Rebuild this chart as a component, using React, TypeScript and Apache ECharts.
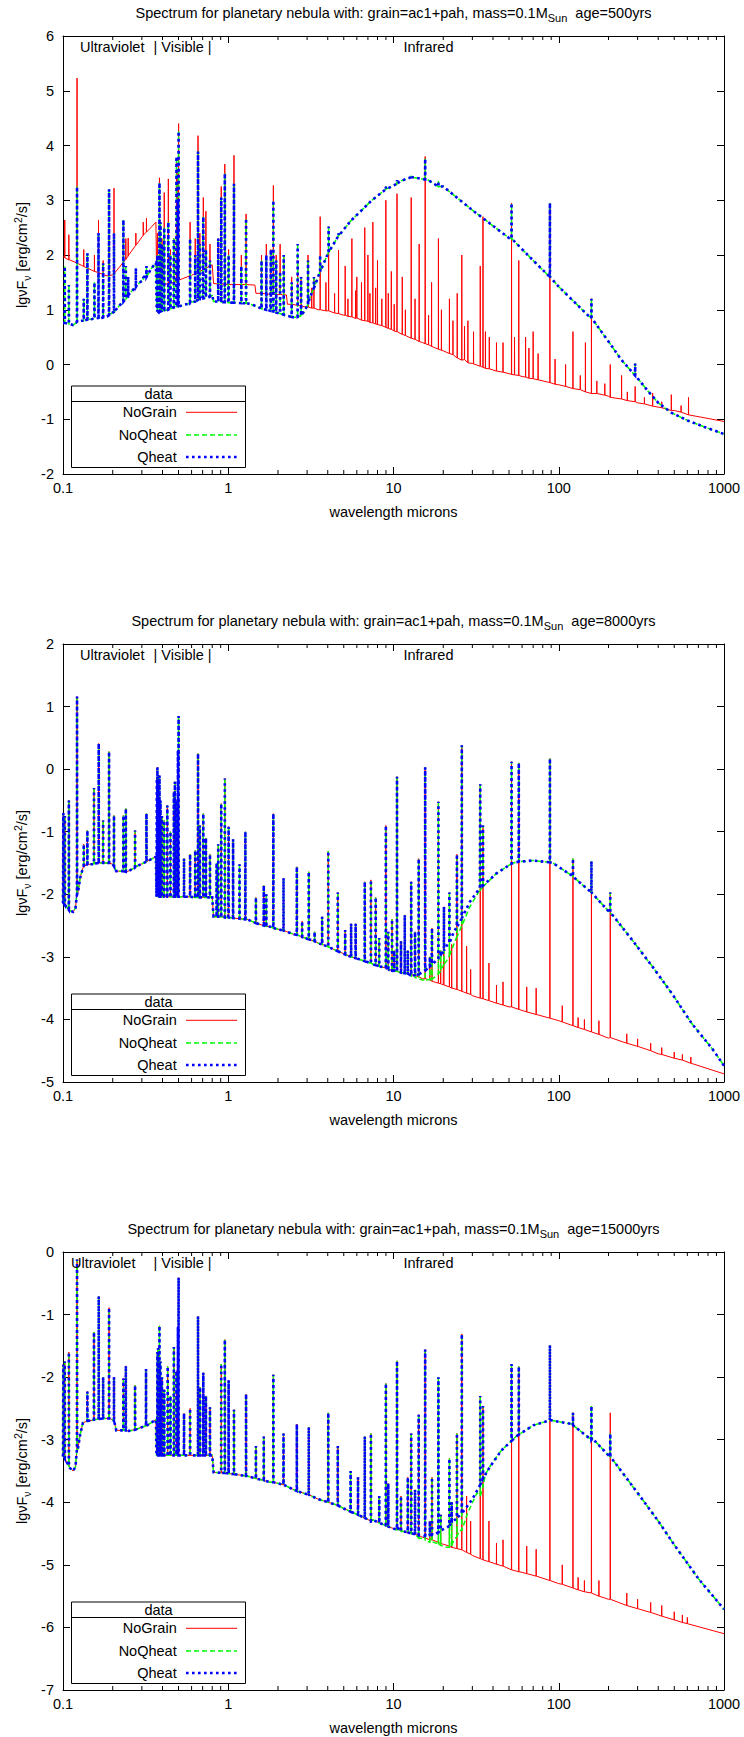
import { useEffect, useRef } from "react";
import * as echarts from "echarts";

const FONT = '"Liberation Sans", Arial, Helvetica, sans-serif';
const FS = 14.5;
const AGES = ["500", "8000", "15000"];
const Y_RANGES = [[-2, 6], [-5, 2], [-7, 0]];
const SERIES_NAMES = ["NoGrain", "NoQheat", "Qheat"];
const MINOR_DECADES = [0.1, 1, 10, 100];

// ---------- Panel 1 (age 500 yrs) ----------
const p1NoGrain = [
  [0.1, 1.97], [0.11, 1.91], [0.12, 1.86], [0.13, 1.81], [0.15, 1.72], [0.17, 1.66], [0.185, 1.62],
  [0.2, 1.64], [0.22, 1.78], [0.25, 2.0], [0.28, 2.2], [0.31, 2.38], [0.34, 2.5], [0.365, 2.6],
  [0.369, 1.5], [0.4, 1.46], [0.45, 1.49], [0.5, 1.54], [0.6, 1.63], [0.7, 1.73], [0.8, 1.82],
  [0.815, 1.48], [1.0, 1.46], [1.2, 1.46], [1.45, 1.45], [1.47, 1.3], [1.8, 1.28], [2.25, 1.27],
  [2.28, 1.1], [2.8, 1.06], [3.5, 1.0], [5, 0.9], [7.4, 0.76], [10, 0.62], [15, 0.4], [20, 0.25],
  [30, 0.02], [40, -0.1], [60, -0.22], [100, -0.37], [200, -0.58], [300, -0.7], [500, -0.84], [1000, -1.04],
];
const p1Dust = [
  [0.1, 0.76], [0.11, 0.74], [0.115, 0.72], [0.12, 0.76], [0.13, 0.8], [0.15, 0.83], [0.17, 0.85],
  [0.185, 0.88], [0.2, 0.95], [0.22, 1.08], [0.25, 1.28], [0.28, 1.45], [0.31, 1.6], [0.34, 1.74],
  [0.365, 1.86], [0.369, 1.0], [0.38, 0.95], [0.42, 0.99], [0.5, 1.06], [0.6, 1.14], [0.7, 1.21],
  [0.8, 1.26], [0.815, 1.15], [1.0, 1.13], [1.3, 1.12], [1.5, 1.06], [1.8, 0.98], [2.2, 0.9],
  [2.5, 0.86], [2.7, 0.88], [2.9, 0.98], [3.1, 1.2], [3.4, 1.5], [3.6, 1.7], [4.3, 2.18], [5.5, 2.62],
  [7.4, 3.0], [9, 3.2], [11, 3.35], [13, 3.42], [16, 3.38], [20, 3.25], [30, 2.82], [50, 2.31],
  [70, 1.9], [100, 1.42], [150, 0.9], [200, 0.42], [240, 0.08], [290, -0.2], [350, -0.5], [400, -0.7],
  [480, -0.88], [600, -1.02], [760, -1.14], [1000, -1.27],
];
// [wavelength, gasBase, gasPeak, dustBase, dustPeak]
const p1Lines = [
  [0.1025, 1.95, 2.64, 0.76, 1.79], [0.1085, 1.91, 2.37, 0.74, 1.45], [0.1216, 1.85, 5.23, 0.78, 3.25],
  [0.1335, 1.79, 2.1, 0.8, 1.2], [0.1405, 1.76, 1.88, 0.82, 2.03], [0.155, 1.7, 2.0, 0.84, 1.5],
  [0.164, 1.68, 2.64, 0.85, 2.4], [0.175, 1.64, 1.9, 0.86, 1.85], [0.19, 1.62, 2.3, 0.9, 3.2],
  [0.2035, 1.66, 3.22, 0.96, 2.4], [0.232, 1.87, 2.2, 1.15, 2.64], [0.24, 1.92, 2.3, 1.2, 1.8],
  [0.248, 1.98, 2.31, 1.24, 1.6], [0.276, 2.18, 2.4, 1.42, 1.76], [0.306, 2.36, 2.6, 1.55, 1.6],
  [0.32, 2.42, 2.67, 1.6, 1.8], [0.3727, 1.5, 2.4, 0.97, 2.0], [0.3835, 1.47, 3.41, 0.97, 3.32],
  [0.389, 1.47, 2.2, 0.97, 2.6], [0.397, 1.46, 2.3, 0.98, 2.2], [0.41, 1.46, 3.14, 0.99, 2.5],
  [0.434, 1.48, 3.39, 1.0, 2.6], [0.447, 1.49, 2.1, 1.02, 2.0], [0.4686, 1.5, 2.3, 1.04, 2.3],
  [0.4861, 1.52, 3.7, 1.05, 3.8], [0.4959, 1.53, 3.5, 1.06, 3.0], [0.5007, 1.54, 4.4, 1.06, 4.26],
  [0.5876, 1.62, 2.6, 1.12, 2.3], [0.6312, 1.66, 2.3, 1.15, 2.0], [0.6563, 1.68, 4.18, 1.18, 3.89],
  [0.673, 1.7, 2.4, 1.19, 2.2], [0.7065, 1.74, 3.05, 1.21, 2.7], [0.7325, 1.76, 2.8, 1.22, 2.1],
  [0.775, 1.8, 2.2, 1.24, 1.9], [0.87, 1.47, 2.3, 1.15, 2.3], [0.907, 1.47, 3.25, 1.14, 3.05],
  [0.9532, 1.47, 3.66, 1.14, 3.49], [1.005, 1.46, 2.1, 1.13, 2.0], [1.083, 1.46, 3.82, 1.13, 3.3],
  [1.2, 1.46, 2.0, 1.12, 1.8], [1.282, 1.46, 2.75, 1.12, 2.67], [1.59, 1.3, 2.0, 1.02, 1.9],
  [1.7, 1.29, 2.2, 1.0, 2.0], [1.81, 1.28, 2.1, 0.98, 2.1], [1.875, 1.28, 3.27, 0.97, 3.0],
  [1.95, 1.28, 2.0, 0.95, 1.9], [2.06, 1.28, 2.2, 0.93, 1.7], [2.166, 1.27, 2.0, 0.91, 2.0],
  [2.42, 1.1, 1.6, 0.87, 1.5], [2.63, 1.08, 1.9, 0.87, 2.2], [2.76, 1.07, 1.6, 0.9, 1.6],
  [3.04, 1.05, 2.0, 1.1, 1.9], [3.3, 1.03, 1.6, 1.4, 1.6], [3.6, 1.0, 2.7, 1.7, 2.0],
  [4.05, 0.98, 2.1, 2.05, 2.52], [4.65, 0.93, 2.09, 2.35, 2.4], [5.1, 0.9, 1.8, null, null],
  [5.6, 0.87, 2.3, null, null], [6.0, 0.85, 1.6, null, null], [6.7, 0.8, 2.5, null, null],
  [7.0, 0.79, 2.0, null, null], [7.5, 0.76, 2.6, null, null], [8.0, 0.73, 1.9, null, null],
  [8.99, 0.68, 3.0, 3.2, 3.25], [9.7, 0.64, 1.7, null, null], [10.5, 0.6, 3.12, 3.3, 3.37],
  [11.3, 0.55, 1.6, null, null], [12.8, 0.48, 3.05, 3.42, 3.45], [14.3, 0.42, 2.2, null, null],
  [15.55, 0.38, 3.8, 3.38, 3.76], [17.0, 0.33, 1.5, null, null], [18.7, 0.28, 2.3, 3.25, 3.35],
  [21.8, 0.2, 1.2, null, null], [24.3, 0.12, 1.3, null, null], [25.9, 0.08, 2.0, null, null],
  [28.2, 0.03, 0.8, null, null], [33.5, -0.03, 1.8, null, null], [34.8, -0.05, 2.7, null, null],
  [36, -0.07, 0.6, null, null], [42, -0.12, 0.4, null, null], [51.8, -0.18, 2.95, 2.3, 2.95],
  [57.3, -0.2, 1.9, null, null], [63, -0.23, 0.5, null, null], [70, -0.26, 0.6, null, null],
  [88.4, -0.33, 2.95, 1.6, 2.95], [121.9, -0.44, 0.6, null, null], [145, -0.5, 0.4, null, null],
  [157.7, -0.53, 1.2, 0.85, 1.2], [205, -0.6, 0.0, null, null], [240, -0.63, -0.2, null, null],
  [290, -0.68, -0.4, -0.2, 0.02], [370, -0.76, -0.52, null, null], [480, -0.84, -0.55, null, null],
  [610, -0.92, -0.6, null, null],
];
// smaller NoGrain lines of the infrared forest: [wavelength, gasBase, gasPeak, null, null]
const p1WeakLines = [
  [3.2, 1.03, 1.4, null, null], [3.9, 0.98, 1.5, null, null], [4.4, 0.94, 1.3, null, null],
  [5.3, 0.88, 1.2, null, null], [5.9, 0.84, 1.35, null, null], [6.4, 0.81, 1.5, null, null],
  [7.2, 0.77, 1.3, null, null], [7.8, 0.74, 1.4, null, null], [8.5, 0.71, 1.2, null, null],
  [9.3, 0.66, 1.3, null, null], [10.1, 0.61, 1.1, null, null], [11.8, 0.53, 1.0, null, null],
  [13.5, 0.46, 1.2, null, null], [16.3, 0.36, 0.9, null, null], [19.5, 0.26, 1.0, null, null],
  [22.9, 0.18, 0.8, null, null], [26.9, 0.09, 0.7, null, null], [30.5, 0.01, 0.6, null, null],
  [38, -0.08, 0.5, null, null], [46, -0.14, 0.4, null, null], [54, -0.19, 0.5, null, null],
  [66, -0.25, 0.3, null, null], [75, -0.28, 0.2, null, null], [95, -0.36, 0.1, null, null],
  [110, -0.4, 0.0, null, null], [135, -0.46, -0.2, null, null], [170, -0.53, -0.3, null, null],
  [190, -0.56, -0.35, null, null], [260, -0.66, -0.5, null, null], [330, -0.72, -0.6, null, null],
  [420, -0.79, -0.68, null, null], [550, -0.87, -0.75, null, null],
];

// ---------- Panel 2 (age 8000 yrs) ----------
const p2Common = [
  [0.1, -2.14], [0.105, -2.2], [0.11, -2.26], [0.115, -2.28], [0.119, -2.22], [0.123, -1.98],
  [0.127, -1.74], [0.132, -1.58], [0.15, -1.52], [0.19, -1.5], [0.2, -1.52], [0.21, -1.63],
  [0.245, -1.64], [0.28, -1.55], [0.33, -1.46], [0.365, -1.4], [0.368, -2.04], [0.5, -2.04],
  [0.8, -2.05], [0.815, -2.36], [1.0, -2.37], [1.3, -2.4], [1.8, -2.52], [2.5, -2.64], [3.5, -2.78],
  [5, -2.95], [7.5, -3.12], [10.7, -3.24],
];
const p2GasIR = [[15, -3.35], [20, -3.45], [30, -3.62], [50, -3.8], [100, -4.02], [200, -4.3], [400, -4.55], [1000, -4.87]];
const p2QheatRise = [[13, -3.3], [15, -3.24], [17, -3.13], [19, -3.0], [21, -2.82], [23, -2.62], [25.7, -2.4], [29, -2.12], [33.3, -1.9]];
const p2NoQheatRise = [[13, -3.32], [15, -3.37], [17, -3.36], [19, -3.25], [21, -3.06], [23, -2.82], [25.7, -2.52], [29, -2.2], [33.3, -1.93]];
const p2HumpTail = [
  [41.8, -1.67], [52.8, -1.5], [70, -1.46], [92, -1.5], [120, -1.7], [159, -1.98], [213, -2.34],
  [280, -2.74], [370, -3.16], [485, -3.59], [640, -4.07], [850, -4.47], [1000, -4.74],
];
// [wl, base, peak] shared, or [wl, gasBase, gasPeak, dustBase, dustPeak, noQheatBase]
const p2Lines = [
  [0.1005, -2.14, -0.7], [0.1026, -2.17, -0.75], [0.1085, -2.25, -0.5], [0.1216, -2.0, 1.16],
  [0.1335, -1.56, -1.2], [0.1405, -1.52, -0.98], [0.154, -1.51, -0.3], [0.1645, -1.5, 0.41],
  [0.175, -1.5, -0.82], [0.19, -1.5, 0.28], [0.2035, -1.55, -0.74], [0.232, -1.63, -0.74],
  [0.24, -1.64, -0.63], [0.273, -1.57, -0.98], [0.32, -1.48, -0.71], [0.3697, -2.04, -0.15],
  [0.3727, -2.04, 0.03], [0.376, -2.04, -0.17], [0.3835, -2.04, -0.1], [0.389, -2.04, -0.5],
  [0.397, -2.04, -0.75], [0.41, -2.04, -0.82], [0.428, -2.04, -0.58], [0.447, -2.04, -1.0],
  [0.4686, -2.04, -0.36], [0.4755, -2.04, -0.2], [0.4861, -2.04, -0.5], [0.4959, -2.04, 0.3],
  [0.5007, -2.04, 0.85], [0.54, -2.04, -1.43], [0.5876, -2.04, -1.36], [0.6312, -2.05, -1.3],
  [0.6563, -2.05, 0.25], [0.673, -2.05, -0.9], [0.7065, -2.05, -0.71], [0.7325, -2.05, -1.1],
  [0.775, -2.05, -1.36], [0.85, -2.36, -1.5], [0.87, -2.36, -1.2], [0.907, -2.36, -0.55],
  [0.9532, -2.37, -0.15], [1.005, -2.37, -0.92], [1.07, -2.38, -1.12], [1.17, -2.39, -1.52],
  [1.27, -2.4, -1.0], [1.47, -2.46, -2.05], [1.64, -2.5, -1.86], [1.7, -2.51, -2.0],
  [1.875, -2.54, -0.71], [2.16, -2.58, -1.74], [2.6, -2.65, -1.56], [2.8, -2.68, -2.43],
  [3.07, -2.72, -1.64], [3.33, -2.75, -2.6], [3.7, -2.8, -2.36], [4.03, -2.84, -1.31],
  [4.6, -2.91, -1.97], [5.1, -2.96, -2.57], [5.54, -3.0, -2.47], [5.9, -3.02, -2.47],
  [6.7, -3.07, -1.8], [7.3, -3.1, -1.77], [7.8, -3.13, -2.05], [8.2, -3.15, -2.7],
  [8.99, -3.18, -0.9], [9.3, -3.2, -2.6], [9.8, -3.22, -2.4], [10.1, -3.22, -2.9],
  [10.5, -3.23, -0.12], [11.1, -3.25, -2.75], [11.7, -3.26, -2.33], [12.2, -3.27, -2.9],
  [12.8, -3.29, -1.8, -3.3, -1.8, -3.31], [13.5, -3.3, -2.6, -3.29, -2.6, -3.33],
  [14.2, -3.32, -1.43, -3.28, -1.43, -3.35],
  [15.55, -3.35, 0.03, -3.22, 0.03, -3.37], [16.6, -3.37, -3.0, -3.15, -3.0, -3.36],
  [17.1, -3.39, -2.54, -3.12, -2.54, -3.36], [18.7, -3.42, -0.52, -3.03, -0.52, -3.27],
  [19.3, -3.43, -2.9, -2.98, -2.9, -3.22], [20.2, -3.45, -2.2, -2.9, -2.2, -3.12],
  [21.8, -3.48, -1.97, -2.78, -1.97, -2.98], [24.2, -3.52, -1.36, -2.52, -1.36, -2.68],
  [25.9, -3.55, 0.38, -2.38, 0.38, -2.5], [33.5, -3.66, -0.24, -1.9, -0.24, -1.93],
  [34.8, -3.67, -0.9, -1.86, -0.9, -1.88], [51.8, -3.8, 0.12, -1.51, 0.12],
  [57.3, -3.84, 0.1, -1.48, 0.1], [88.4, -3.98, 0.17, -1.49, 0.17], [121.9, -4.1, -1.43, -1.72, -1.43],
  [157.7, -4.2, -1.47, -1.97, -1.47], [205, -4.29, -1.97, -2.3, -1.97],
  [22.5, -3.5, -2.8, null, null],
  [27.7, -3.58, -2.83, null, null], [29.3, -3.6, -3.2, null, null], [37.8, -3.7, -3.1, null, null],
  [42, -3.74, -3.45, null, null], [46, -3.77, -3.4, null, null], [64, -3.88, -3.48, null, null],
  [73, -3.92, -3.5, null, null], [105, -4.04, -3.78, null, null], [131, -4.13, -3.97, null, null],
  [143, -4.16, -4.0, null, null], [175, -4.24, -4.02, null, null], [258, -4.38, -4.23, null, null],
  [300, -4.43, -4.31, null, null], [360, -4.5, -4.38, null, null], [420, -4.56, -4.45, null, null],
  [500, -4.62, -4.52, null, null], [560, -4.65, -4.56, null, null], [630, -4.7, -4.6, null, null],
];

// ---------- Panel 3 (age 15000 yrs) ----------
const p3Common = [
  [0.1, -3.27], [0.105, -3.35], [0.11, -3.45], [0.115, -3.5], [0.119, -3.43], [0.123, -3.15],
  [0.127, -2.92], [0.132, -2.73], [0.15, -2.69], [0.19, -2.65], [0.2, -2.68], [0.21, -2.85],
  [0.25, -2.86], [0.3, -2.8], [0.365, -2.68], [0.368, -3.25], [0.5, -3.25], [0.8, -3.25],
  [0.815, -3.52], [1.3, -3.58], [1.8, -3.68], [2.5, -3.8], [3.5, -3.95], [5, -4.1], [7.5, -4.28],
  [10.7, -4.42], [13, -4.5],
];
const p3GasIR = [[15, -4.56], [20, -4.67], [30, -4.85], [40, -4.97], [60, -5.12], [100, -5.3], [200, -5.55], [400, -5.8], [1000, -6.1]];
const p3QheatRise = [[15, -4.54], [18, -4.5], [22, -4.36], [26, -4.18], [30, -3.95], [34, -3.68], [38, -3.45]];
const p3NoQheatRise = [[15, -4.58], [18, -4.65], [21, -4.72], [23, -4.62], [25, -4.45], [28, -4.18], [32, -3.85], [36, -3.55], [40, -3.35]];
const p3HumpTail = [
  [45, -3.17], [55, -2.95], [70, -2.77], [90, -2.69], [120, -2.75], [160, -2.98], [200, -3.25],
  [300, -3.85], [400, -4.3], [500, -4.68], [700, -5.22], [1000, -5.71],
];
const p3Lines = [
  [0.1005, -3.27, -1.8], [0.1025, -3.3, -1.75], [0.1085, -3.42, -1.6], [0.1216, -3.15, -0.12],
  [0.1405, -2.7, -2.23], [0.154, -2.68, -1.28], [0.1645, -2.67, -0.71], [0.175, -2.66, -2.0],
  [0.19, -2.66, -0.89], [0.2035, -2.7, -2.0], [0.232, -2.85, -2.02], [0.24, -2.85, -1.82],
  [0.273, -2.84, -2.13], [0.318, -2.78, -1.87], [0.3727, -3.25, -1.6], [0.376, -3.25, -1.54],
  [0.3835, -3.25, -1.18], [0.389, -3.25, -1.75], [0.397, -3.25, -2.0], [0.41, -3.25, -2.2],
  [0.43, -3.25, -1.83], [0.447, -3.25, -2.3], [0.4686, -3.25, -1.52], [0.4861, -3.25, -1.9],
  [0.4959, -3.25, -1.2], [0.5007, -3.25, -0.41], [0.54, -3.25, -2.58], [0.5876, -3.25, -2.5],
  [0.6563, -3.25, -1.03], [0.675, -3.25, -2.16], [0.7065, -3.25, -1.93], [0.7325, -3.25, -2.3],
  [0.775, -3.25, -2.48], [0.907, -3.53, -1.79], [0.9532, -3.53, -1.4], [1.005, -3.54, -2.05],
  [1.083, -3.55, -2.52], [1.282, -3.58, -2.27], [1.47, -3.62, -3.1], [1.64, -3.65, -2.95],
  [1.875, -3.68, -1.96], [2.16, -3.72, -2.9], [2.6, -3.82, -2.75], [3.07, -3.88, -2.8],
  [4.03, -4.0, -2.57], [4.6, -4.05, -3.1], [5.5, -4.15, -3.5], [6.1, -4.2, -3.6],
  [6.7, -4.25, -2.95], [7.3, -4.3, -2.9], [8.2, -4.33, -3.9], [8.99, -4.37, -2.1],
  [9.3, -4.39, -3.7], [10.5, -4.44, -1.74], [11.1, -4.46, -3.9], [12.2, -4.48, -3.6],
  [12.8, -4.5, -2.9], [13.5, -4.51, -3.8],
  [14.2, -4.53, -2.6, -4.53, -2.6, -4.57], [15.55, -4.57, -1.56, -4.54, -1.56, -4.6],
  [17.1, -4.6, -3.6, -4.52, -3.6, -4.63], [18.7, -4.64, -2.0, -4.48, -2.0, -4.66],
  [21.8, -4.7, -3.3, -4.38, -3.3, -4.72], [24.2, -4.74, -2.9, -4.25, -2.9, -4.55],
  [25.9, -4.76, -1.31, -4.18, -1.31, -4.45], [33.5, -4.9, -2.3, -3.72, -2.3, -3.9],
  [34.8, -4.92, -2.46, -3.62, -2.46, -3.75], [51.8, -5.08, -1.79, -3.02, -1.79],
  [57.3, -5.11, -1.83, -2.92, -1.83], [88.4, -5.25, -1.49, -2.69, -1.49],
  [121.9, -5.37, -2.57, -2.77, -2.57], [157.7, -5.45, -2.46, -3.0, -2.46], [205, -5.55, -2.57, -3.27, -2.9],
  [16.6, -4.6, -4.3, -4.52, -4.3, -4.64], [19.3, -4.66, -4.2, -4.45, -4.2, -4.69],
  [22.5, -4.72, -4.0, -4.33, -4.0, -4.7],
  [27.7, -4.8, -3.9, null, null], [29.3, -4.83, -4.3, null, null], [37.8, -4.95, -4.3, null, null],
  [42, -4.99, -4.65, null, null], [46, -5.02, -4.6, null, null], [64, -5.14, -4.7, null, null],
  [73, -5.18, -4.75, null, null], [105, -5.31, -5.0, null, null], [131, -5.4, -5.2, null, null],
  [143, -5.43, -5.25, null, null], [175, -5.5, -5.25, null, null], [258, -5.65, -5.45, null, null],
  [300, -5.7, -5.55, null, null], [360, -5.76, -5.6, null, null], [420, -5.82, -5.65, null, null],
  [500, -5.88, -5.75, null, null], [560, -5.92, -5.8, null, null], [600, -5.94, -5.84, null, null],
];

// ---------- assembly ----------
type Pt = [number, number];
function withLines(cont: number[][], lines: any[][], kind: "gas" | "qheat" | "noqheat"): Pt[] {
  const pts: Pt[] = cont.map((p) => [p[0], p[1]] as Pt);
  for (const r of lines) {
    let base: number | null;
    let peak: number | null;
    if (r.length === 3) {
      base = r[1];
      peak = r[2];
    } else if (kind === "gas") {
      base = r[1];
      peak = r[2];
    } else {
      base = kind === "noqheat" && r.length > 5 ? r[5] : r[3];
      peak = r[4];
    }
    if (base == null || peak == null) continue;
    const w = r[0];
    pts.push([w * 0.9985, base], [w, peak], [w * 1.0015, base]);
  }
  pts.sort((a, b) => a[0] - b[0]);
  return pts;
}

const p1AllLines = [...p1Lines, ...p1WeakLines];
const PANELS = [
  {
    gas: withLines(p1NoGrain, p1AllLines, "gas"),
    noq: withLines(p1Dust, p1AllLines, "noqheat"),
    q: withLines(p1Dust, p1AllLines, "qheat"),
  },
  {
    gas: withLines([...p2Common, ...p2GasIR], p2Lines, "gas"),
    noq: withLines([...p2Common, ...p2NoQheatRise, ...p2HumpTail], p2Lines, "noqheat"),
    q: withLines([...p2Common, ...p2QheatRise, ...p2HumpTail], p2Lines, "qheat"),
  },
  {
    gas: withLines([...p3Common, ...p3GasIR], p3Lines, "gas"),
    noq: withLines([...p3Common, ...p3NoQheatRise, ...p3HumpTail], p3Lines, "noqheat"),
    q: withLines([...p3Common, ...p3QheatRise, ...p3HumpTail], p3Lines, "qheat"),
  },
];

const MINOR_TICKS: number[] = [];
for (const d of MINOR_DECADES) for (let k = 2; k <= 9; k++) MINOR_TICKS.push(+(k * d).toPrecision(3));

const GRID_LEFT = 63;
const GRID_W = 661;
const GRID_H = 438;
const GRID_TOPS = [36, 644, 1252];

const RED = "#ff0000";
const GREEN = "#00ff00";
const BLUE = "#0000ff";
const LINE_STYLES = [
  { color: RED, width: 1, type: "solid" as any },
  { color: GREEN, width: 1.5, type: [5, 3] as any },
  { color: BLUE, width: 2.6, type: [2.6, 3.4] as any },
];

function buildOption() {
  const grid: any[] = [];
  const xAxis: any[] = [];
  const yAxis: any[] = [];
  const series: any[] = [];
  const graphic: any[] = [];
  const axisLine = { show: true, onZero: false, lineStyle: { color: "#000", width: 1 } };
  const tick = { show: true, inside: true, length: 7, lineStyle: { color: "#000", width: 1 } };
  const font = `${FS}px ${FONT}`;

  PANELS.forEach((panel, i) => {
    const top = GRID_TOPS[i];
    const bottom = top + GRID_H;
    const [ymin, ymax] = Y_RANGES[i];
    grid.push({ left: GRID_LEFT, top, width: GRID_W, height: GRID_H, containLabel: false });
    xAxis.push(
      {
        gridIndex: i, type: "log", logBase: 10, min: 0.1, max: 1000, position: "bottom",
        axisLine, axisTick: tick, splitLine: { show: false },
        axisLabel: {
          fontSize: FS, color: "#000", fontFamily: FONT, margin: 6,
          formatter: (v: number) => String(+v.toPrecision(3)),
        },
      },
      {
        gridIndex: i, type: "log", logBase: 10, min: 0.1, max: 1000, position: "top",
        axisLine, axisTick: tick, splitLine: { show: false }, axisLabel: { show: false },
      }
    );
    yAxis.push(
      {
        gridIndex: i, type: "value", min: ymin, max: ymax, interval: 1, position: "left",
        axisLine, axisTick: tick, splitLine: { show: false },
        axisLabel: { fontSize: FS, color: "#000", fontFamily: FONT, margin: 9 },
      },
      {
        gridIndex: i, type: "value", min: ymin, max: ymax, interval: 1, position: "right",
        axisLine, axisTick: tick, splitLine: { show: false }, axisLabel: { show: false },
      }
    );
    const datas = [panel.gas, panel.noq, panel.q];
    datas.forEach((d, k) => {
      series.push({
        type: "line", name: SERIES_NAMES[k], xAxisIndex: 2 * i, yAxisIndex: 2 * i,
        data: d, showSymbol: false, symbol: "none", silent: true, clip: true,
        lineStyle: { ...LINE_STYLES[k], cap: "butt", join: "miter" }, z: 2 + k,
        emphasis: { disabled: true },
      });
    });
    series.push({
      type: "custom", xAxisIndex: 2 * i, yAxisIndex: 2 * i, silent: true, clip: false, z: 10,
      data: MINOR_TICKS.map((v) => [v, ymin]),
      renderItem: (params: any, api: any) => {
        const cs = params.coordSys;
        const x = api.coord([api.value(0), api.value(1)])[0];
        const yb = cs.y + cs.height;
        const yt = cs.y;
        return {
          type: "group",
          children: [
            { type: "line", shape: { x1: x, y1: yb, x2: x, y2: yb - 4 }, style: { stroke: "#000", lineWidth: 1 } },
            { type: "line", shape: { x1: x, y1: yt, x2: x, y2: yt + 4 }, style: { stroke: "#000", lineWidth: 1 } },
          ],
        };
      },
    });

    // title
    const cx = GRID_LEFT + GRID_W / 2;
    graphic.push({
      type: "text", x: cx, y: top - 23, z: 100,
      style: {
        text: `Spectrum for planetary nebula with: grain=ac1+pah, mass=0.1M{sub|Sun}  age=${AGES[i]}yrs`,
        font, fill: "#000", align: "center", verticalAlign: "middle", lineHeight: 20,
        rich: {
          sub: { fontSize: 11, fontFamily: FONT, verticalAlign: "bottom", lineHeight: 12, fill: "#000" },
        },
      },
    });
    // region labels
    graphic.push(
      { type: "text", x: i === 2 ? 71 : 80, y: top + 11, z: 100, style: { text: "Ultraviolet", font, fill: "#000", verticalAlign: "middle" } },
      { type: "text", x: 153.5, y: top + 11, z: 100, style: { text: "| Visible |", font, fill: "#000", verticalAlign: "middle" } },
      { type: "text", x: 403.5, y: top + 11, z: 100, style: { text: "Infrared", font, fill: "#000", verticalAlign: "middle" } }
    );
    // y axis title
    graphic.push({
      type: "text", x: 22, y: top + GRID_H / 2, rotation: Math.PI / 2, z: 100,
      style: {
        text: "lgνF{sub|ν} [erg/cm{sup|2}/s]",
        font, fill: "#000", align: "center", verticalAlign: "middle", lineHeight: 20,
        rich: {
          sub: { fontSize: 10.5, fontFamily: FONT, verticalAlign: "bottom", lineHeight: 12, fill: "#000" },
          sup: { fontSize: 10.5, fontFamily: FONT, verticalAlign: "top", lineHeight: 12, fill: "#000" },
        },
      },
    });
    // x axis title
    graphic.push({
      type: "text", x: cx, y: bottom + 38, z: 100,
      style: { text: "wavelength microns", font, fill: "#000", align: "center", verticalAlign: "middle" },
    });
    // legend box
    const lx = 71.5;
    const lw = 174;
    const ly = bottom - 88;
    graphic.push(
      { type: "rect", z: 50, shape: { x: lx, y: ly, width: lw, height: 81.5 }, style: { fill: "#fff", stroke: "#000", lineWidth: 1 } },
      { type: "line", z: 51, shape: { x1: lx, y1: bottom - 72.5, x2: lx + lw, y2: bottom - 72.5 }, style: { stroke: "#000", lineWidth: 1 } },
      { type: "text", z: 51, x: lx + lw / 2, y: bottom - 80, style: { text: "data", font, fill: "#000", align: "center", verticalAlign: "middle" } }
    );
    const rowsY = [bottom - 61.7, bottom - 39, bottom - 17];
    SERIES_NAMES.forEach((nm, k) => {
      const ls = LINE_STYLES[k];
      graphic.push(
        { type: "text", z: 51, x: 176.7, y: rowsY[k], style: { text: nm, font, fill: "#000", align: "right", verticalAlign: "middle" } },
        {
          type: "line", z: 51, shape: { x1: 186, y1: rowsY[k], x2: 237, y2: rowsY[k] },
          style: { stroke: ls.color, lineWidth: ls.width, lineDash: Array.isArray(ls.type) ? ls.type : null },
        }
      );
    });
  });

  return {
    animation: false,
    backgroundColor: "#fff",
    textStyle: { fontFamily: FONT },
    grid, xAxis, yAxis, series, graphic,
  };
}

export default function App() {
  const ref = useRef<HTMLDivElement>(null);
  useEffect(() => {
    if (!ref.current) return;
    const chart = echarts.init(ref.current, undefined, { renderer: "svg" });
    chart.setOption(buildOption() as any);
    return () => chart.dispose();
  }, []);
  return <div ref={ref} style={{ position: "absolute", left: 0, top: 0, width: 744, height: 1737 }} />;
}
